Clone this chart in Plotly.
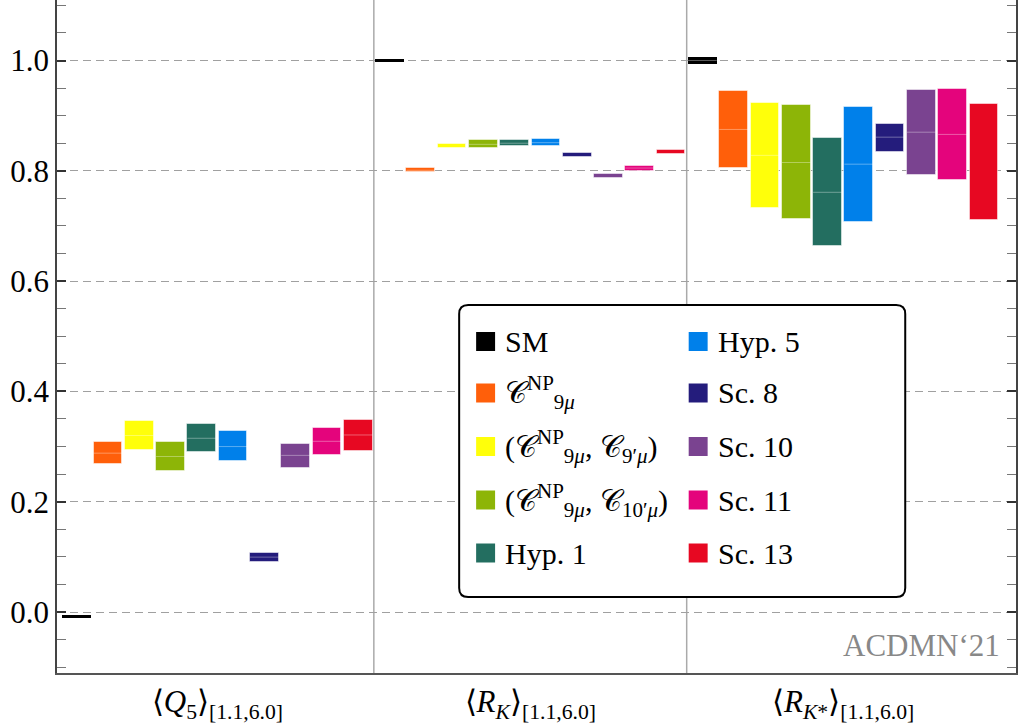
import plotly.graph_objects as go

# ---------------- data ----------------
observables = [
    "⟨<i>Q</i><sub>5</sub>⟩<sub>[1.1,6.0]</sub>",
    "⟨<i>R</i><sub><i>K</i></sub>⟩<sub>[1.1,6.0]</sub>",
    "⟨<i>R</i><sub><i>K</i>*</sub>⟩<sub>[1.1,6.0]</sub>",
]

scenarios = [
    "SM",
    "𝒞<sup>NP</sup><sub>9<i>μ</i></sub>",
    "(𝒞<sup>NP</sup><sub>9<i>μ</i></sub>, 𝒞<sub>9′<i>μ</i></sub>)",
    "(𝒞<sup>NP</sup><sub>9<i>μ</i></sub>, 𝒞<sub>10′<i>μ</i></sub>)",
    "Hyp. 1",
    "Hyp. 5",
    "Sc. 8",
    "Sc. 10",
    "Sc. 11",
    "Sc. 13",
]

colors = ["#000000", "#FF5F0A", "#FFFF0A", "#8DB507", "#236E60",
          "#0080EA", "#241C7C", "#7A4390", "#E4047C", "#E70822"]

# <Q5>
q5_low = [-0.0098, 0.268, 0.294, 0.255, 0.291, 0.273, 0.090, 0.262, 0.285, 0.292]
q5_mid = [-0.008, 0.288, 0.320, 0.282, 0.315, 0.300, 0.0995, 0.284, 0.3095, 0.321]
q5_high = [-0.0062, 0.309, 0.346, 0.308, 0.340, 0.328, 0.1075, 0.305, 0.333, 0.348]

# <R_K>
rk_low = [0.998, 0.797, 0.841, 0.842, 0.8445, 0.8455, 0.8256, 0.7875, 0.800, 0.831]
rk_mid = [1.000, 0.801, 0.8445, 0.848, 0.850, 0.851, 0.829, 0.791, 0.805, 0.835]
rk_high = [1.003, 0.805, 0.848, 0.855, 0.855, 0.857, 0.832, 0.795, 0.809, 0.838]

# <R_K*>
rks_low = [0.994, 0.8045, 0.7325, 0.712, 0.6636, 0.708, 0.835, 0.792, 0.783, 0.711]
rks_mid = [1.000, 0.875, 0.828, 0.815, 0.761, 0.812, 0.861, 0.870, 0.866, None]
rks_high = [1.006, 0.945, 0.923, 0.919, 0.859, 0.916, 0.885, 0.947, 0.948, 0.921]

y_ticks = [0.0, 0.2, 0.4, 0.6, 0.8, 1.0]
watermark = "ACDMN‘21"

# ---------------- figure ----------------
W, H = 1018, 727
ML, MR, MT, MB = 57, 0, 0, 54
FONT = "Liberation Serif"

lows = [q5_low, rk_low, rks_low]
mids = [q5_mid, rk_mid, rks_mid]
highs = [q5_high, rk_high, rks_high]

n = len(scenarios)
slot = 1.0 / n
bw = 0.092

fig = go.Figure()
for i in range(n):
    xs = [g + slot * (i + 0.5) for g in range(3)]
    base = [lows[g][i] for g in range(3)]
    ht = [highs[g][i] - lows[g][i] for g in range(3)]
    edge = dict(width=0) if i == 0 else dict(color="rgba(255,255,255,0.5)", width=1)
    fig.add_trace(go.Bar(
        x=xs, y=ht, base=base, width=bw,
        marker=dict(color=colors[i], line=edge),
        name=scenarios[i], showlegend=False, hoverinfo="skip",
    ))
    lx, ly = [], []
    for g in range(3):
        m = mids[g][i]
        if m is None or (highs[g][i] - lows[g][i]) < 0.008:
            continue
        lx += [xs[g] - bw / 2, xs[g] + bw / 2, None]
        ly += [m, m, None]
    if lx:
        fig.add_trace(go.Scatter(
            x=lx, y=ly, mode="lines",
            line=dict(color="rgba(255,255,255,0.35)", width=1),
            showlegend=False, hoverinfo="skip",
        ))

# group separators
for g in (1, 2):
    fig.add_shape(type="line", xref="x", yref="paper", x0=g, x1=g, y0=0, y1=1,
                  line=dict(color="#AAAAAA", width=1.5), layer="below")

# ---------------- manual legend ----------------
PW = W - ML - MR
PH = H - MT - MB


def px(xp):
    return (xp - ML) / PW


def py(yp):
    return (H - MB - yp) / PH


bx0, bx1, by0, by1, r = 460, 907, 305, 597, 9
path = (f"M {px(bx0 + r)},{py(by0)} L {px(bx1 - r)},{py(by0)} "
        f"Q {px(bx1)},{py(by0)} {px(bx1)},{py(by0 + r)} "
        f"L {px(bx1)},{py(by1 - r)} Q {px(bx1)},{py(by1)} {px(bx1 - r)},{py(by1)} "
        f"L {px(bx0 + r)},{py(by1)} Q {px(bx0)},{py(by1)} {px(bx0)},{py(by1 - r)} "
        f"L {px(bx0)},{py(by0 + r)} Q {px(bx0)},{py(by0)} {px(bx0 + r)},{py(by0)} Z")
fig.add_shape(type="path", xref="paper", yref="paper", path=path,
              fillcolor="white", line=dict(color="black", width=2), layer="above")

col_sq = [477, 690]
col_tx = [504, 717]
rows = [341.5, 393, 446.5, 500, 553]
sq = 19
for i in range(n):
    c, rr = divmod(i, 5)
    yc = rows[rr]
    fig.add_shape(type="rect", xref="paper", yref="paper",
                  x0=px(col_sq[c]), x1=px(col_sq[c] + sq),
                  y0=py(yc + sq / 2), y1=py(yc - sq / 2),
                  fillcolor=colors[i], line=dict(width=0), layer="above")
    fig.add_annotation(xref="paper", yref="paper", x=px(col_tx[c]), y=py(yc),
                       text=scenarios[i], showarrow=False, xanchor="left",
                       yanchor="middle", font=dict(family=FONT, size=30, color="black"))

fig.add_annotation(xref="paper", yref="paper", x=px(1004), y=py(645), text=watermark,
                   showarrow=False, xanchor="right", yanchor="middle",
                   font=dict(family=FONT, size=31, color="#888888"))

fig.update_layout(
    width=W, height=H,
    margin=dict(l=ML, r=MR, t=MT, b=MB, pad=0),
    paper_bgcolor="white", plot_bgcolor="white",
    barmode="overlay", bargap=0,
    showlegend=False,
    font=dict(family=FONT, size=28, color="black"),
    xaxis=dict(
        range=[-0.01276, 3.0526],
        tickmode="array", tickvals=[0.5, 1.5, 2.5], ticktext=observables,
        ticks="", showgrid=False, zeroline=False,
        showline=True, linecolor="#555555", linewidth=2,
        tickfont=dict(family=FONT, size=31, color="black"),
    ),
    yaxis=dict(
        range=[-0.1106, 1.1097],
        tickmode="array", tickvals=y_ticks, ticktext=[f"{v:.1f}" for v in y_ticks],
        ticks="inside", ticklen=9, tickwidth=1.5, tickcolor="#333333",
        minor=dict(dtick=0.05, tick0=0, ticks="inside", ticklen=9, tickwidth=1.3,
                   tickcolor="#777777", showgrid=False),
        showgrid=True, gridcolor="#A0A0A0", gridwidth=1.3, griddash="8px,5px",
        zeroline=False, showline=True, linecolor="#444444", linewidth=1.5,
        mirror="allticks",
        tickfont=dict(family=FONT, size=31, color="black"),
    ),
)

fig.write_html("out.html")
